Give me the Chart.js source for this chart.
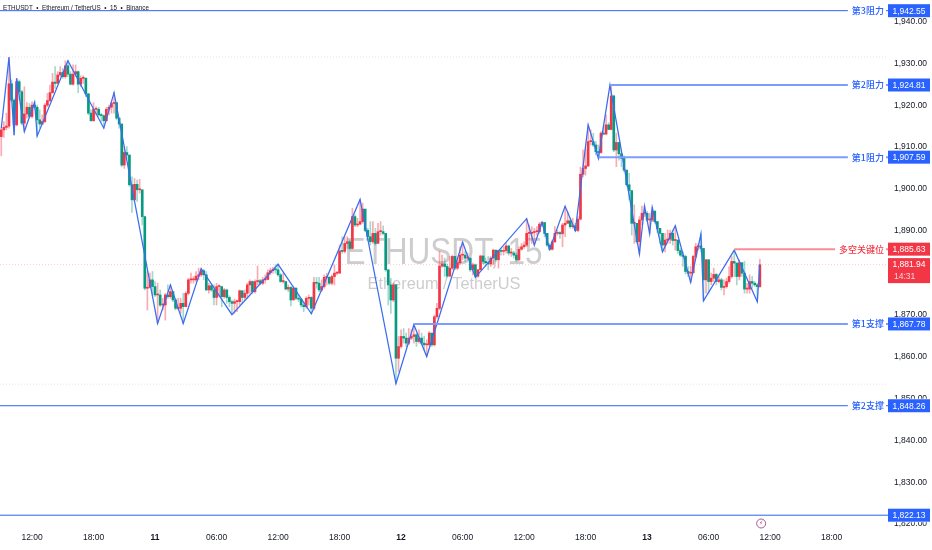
<!DOCTYPE html>
<html><head><meta charset="utf-8">
<style>html,body{margin:0;padding:0;background:#fff}#w{width:932px;height:550px;position:relative}</style>
<script src="https://cdn.jsdelivr.net/npm/chart.js@4/dist/chart.umd.js"></script>
</head><body><div id="w"><canvas id="c" width="932" height="550"></canvas></div>
<script>
const opens=[1912.5,1914.1,1914.7,1915.0,1925.1,1921.2,1915.3,1925.6,1923.2,1915.7,1917.9,1919.5,1917.3,1920.0,1919.5,1916.5,1915.5,1916.1,1920.0,1921.1,
1923.0,1925.5,1925.2,1927.2,1927.8,1926.8,1929.4,1927.4,1925.0,1927.4,1928.0,1925.0,1926.4,1926.4,1922.7,1918.1,1916.3,1919.0,1919.0,1917.7,
1917.5,1916.3,1919.0,1919.5,1920.4,1920.6,1916.9,1915.5,1905.7,1908.7,1908.1,1901.0,1897.4,1901.1,1899.8,1899.8,1893.4,1876.3,1876.5,1878.3,
1876.7,1874.7,1874.7,1872.3,1872.3,1874.7,1874.3,1875.5,1873.5,1871.5,1871.5,1872.7,1871.9,1875.1,1878.3,1878.3,1878.3,1879.2,1879.5,1880.5,
1879.5,1875.9,1876.9,1875.9,1874.1,1876.7,1876.7,1874.3,1875.9,1874.1,1873.1,1872.7,1873.1,1873.1,1875.7,1874.1,1875.1,1877.1,1877.9,1875.5,
1877.9,1878.1,1877.5,1878.3,1878.4,1880.0,1880.5,1880.8,1880.7,1879.5,1877.9,1877.9,1876.1,1876.5,1873.5,1876.3,1873.9,1873.7,1872.3,1871.9,
1873.9,1874.1,1871.5,1877.7,1877.5,1875.9,1876.7,1878.9,1878.9,1877.5,1879.1,1879.9,1879.9,1885.2,1885.1,1887.0,1887.4,1885.8,1893.4,1891.4,
1891.6,1892.2,1895.2,1890.1,1888.6,1887.4,1889.4,1887.0,1889.8,1889.8,1889.4,1880.7,1877.1,1873.5,1877.1,1859.6,1862.4,1864.8,1864.4,1863.2,
1864.4,1864.8,1865.2,1863.6,1864.4,1863.2,1862.8,1862.8,1865.6,1862.8,1869.5,1871.5,1881.6,1882.1,1881.5,1879.2,1881.1,1883.9,1881.1,1882.4,
1884.2,1884.2,1883.5,1883.5,1880.7,1881.9,1879.2,1880.7,1884.0,1882.7,1882.4,1882.1,1883.5,1885.4,1883.1,1885.3,1885.1,1885.3,1886.4,1884.7,
1884.7,1884.2,1883.1,1885.6,1886.2,1886.6,1889.4,1889.4,1889.6,1889.8,1889.8,1891.6,1892.0,1889.4,1886.6,1885.6,1887.4,1889.4,1889.6,1889.3,
1891.4,1891.8,1892.4,1891.0,1891.2,1890.1,1892.8,1903.5,1904.9,1905.5,1911.3,1911.3,1910.5,1908.9,1908.7,1913.3,1913.1,1915.3,1914.2,1922.2,
1909.3,1911.1,1908.4,1907.3,1904.5,1901.0,1899.6,1891.8,1891.8,1887.4,1892.6,1894.2,1894.2,1892.6,1892.6,1894.7,1892.2,1890.6,1889.4,1886.6,
1887.8,1888.0,1889.4,1887.7,1887.8,1885.3,1884.2,1883.9,1880.3,1879.9,1880.0,1883.9,1886.2,1886.4,1885.8,1878.3,1883.1,1877.9,1878.7,1879.6,
1877.9,1878.3,1876.5,1876.7,1877.9,1879.1,1882.7,1882.3,1879.1,1882.4,1879.9,1876.1,1876.1,1877.9,1877.5,1877.1,1876.7];
const closes=[1914.1,1914.7,1915.0,1925.1,1921.2,1915.3,1925.6,1923.2,1915.7,1917.9,1919.5,1917.3,1920.0,1919.5,1916.5,1915.5,1916.1,1920.0,1921.1,1923.0,
1925.5,1925.2,1927.2,1927.8,1926.8,1929.4,1927.4,1925.0,1927.4,1928.0,1925.0,1926.4,1926.4,1922.7,1918.1,1916.3,1919.0,1919.0,1917.7,1917.5,
1916.3,1919.0,1919.5,1920.4,1920.6,1916.9,1915.5,1905.7,1908.7,1908.1,1901.0,1897.4,1901.1,1899.8,1899.8,1893.4,1876.3,1876.5,1878.3,1876.7,
1874.7,1874.7,1872.3,1872.3,1874.7,1874.3,1875.5,1873.5,1871.5,1871.5,1872.7,1871.9,1875.1,1878.3,1878.3,1878.3,1879.2,1879.5,1880.5,1879.5,
1875.9,1876.9,1875.9,1874.1,1876.7,1876.7,1874.3,1875.9,1874.1,1873.1,1872.7,1873.1,1873.1,1875.7,1874.1,1875.1,1877.1,1877.9,1875.5,1877.9,
1878.1,1877.5,1878.3,1878.4,1880.0,1880.5,1880.8,1880.7,1879.5,1877.9,1877.9,1876.1,1876.5,1873.5,1876.3,1873.9,1873.7,1872.3,1871.9,1873.9,
1874.1,1871.5,1877.7,1877.5,1875.9,1876.7,1878.9,1878.9,1877.5,1879.1,1879.9,1879.9,1885.2,1885.1,1887.0,1887.4,1885.8,1893.4,1891.4,1891.6,
1892.2,1895.2,1890.1,1888.6,1887.4,1889.4,1887.0,1889.8,1889.8,1889.4,1880.7,1877.1,1873.5,1877.1,1859.6,1862.4,1864.8,1864.4,1863.2,1864.4,
1864.8,1865.2,1863.6,1864.4,1863.2,1862.8,1862.8,1865.6,1862.8,1869.5,1871.5,1881.6,1882.1,1881.5,1879.2,1881.1,1883.9,1881.1,1882.4,1884.2,
1884.2,1883.5,1883.5,1880.7,1881.9,1879.2,1880.7,1884.0,1882.7,1882.4,1882.1,1883.5,1885.4,1883.1,1885.3,1885.1,1885.3,1886.4,1884.7,1884.7,
1884.2,1883.1,1885.6,1886.2,1886.6,1889.4,1889.4,1889.6,1889.8,1889.8,1891.6,1892.0,1889.4,1886.6,1885.6,1887.4,1889.4,1889.6,1889.3,1891.4,
1891.8,1892.4,1891.0,1891.2,1890.1,1892.8,1903.5,1904.9,1905.5,1911.3,1911.3,1910.5,1908.9,1908.7,1913.3,1913.1,1915.3,1914.2,1922.2,1909.3,
1911.1,1908.4,1907.3,1904.5,1901.0,1899.6,1891.8,1891.8,1887.4,1892.6,1894.2,1894.2,1892.6,1892.6,1894.7,1892.2,1890.6,1889.4,1886.6,1887.8,
1888.0,1889.4,1887.7,1887.8,1885.3,1884.2,1883.9,1880.3,1879.9,1880.0,1883.9,1886.2,1886.4,1885.8,1878.3,1883.1,1877.9,1878.7,1879.6,1877.9,
1878.3,1876.5,1876.7,1877.9,1879.1,1882.7,1882.3,1879.1,1882.4,1879.9,1876.1,1876.1,1877.9,1877.5,1877.1,1876.7,1881.9];
const highs=[1914.5,1916.1,1918.1,1931.4,1926.0,1921.6,1926.4,1926.0,1923.6,1924.4,1920.6,1920.4,1920.8,1920.8,1920.0,1918.9,1917.7,1920.4,1922.8,1924.8,
1927.6,1929.2,1928.0,1929.2,1928.8,1930.6,1930.6,1928.0,1929.6,1929.6,1928.2,1927.0,1927.0,1926.6,1922.8,1918.9,1920.6,1919.6,1919.5,1918.1,
1917.7,1919.5,1920.0,1920.8,1923.0,1920.6,1916.9,1915.5,1910.1,1910.1,1908.1,1902.9,1902.5,1902.1,1902.3,1899.8,1893.4,1880.3,1879.9,1880.3,
1877.9,1877.5,1875.9,1873.9,1875.1,1877.1,1877.1,1875.5,1873.9,1873.9,1873.9,1875.1,1875.5,1878.7,1879.9,1879.1,1880.3,1881.1,1881.1,1880.8,
1880.3,1877.5,1877.1,1877.1,1877.5,1877.1,1876.7,1876.3,1876.1,1874.5,1873.5,1873.7,1873.5,1875.9,1875.7,1875.9,1877.5,1878.3,1878.1,1878.3,
1881.6,1878.4,1878.9,1879.5,1880.7,1881.1,1881.3,1881.9,1882.1,1879.9,1879.9,1877.9,1877.1,1876.7,1876.7,1876.5,1874.7,1873.9,1873.1,1874.3,
1874.7,1874.3,1878.9,1878.9,1878.9,1878.3,1879.5,1879.9,1879.1,1879.5,1881.9,1880.3,1886.6,1888.6,1888.6,1888.6,1887.8,1895.4,1893.8,1893.0,
1897.5,1896.6,1893.0,1890.6,1892.2,1892.2,1890.6,1891.8,1892.2,1891.2,1889.4,1880.7,1878.7,1877.5,1877.1,1864.8,1866.4,1866.7,1865.6,1866.7,
1866.4,1867.6,1865.6,1866.4,1865.6,1864.8,1864.0,1866.0,1865.6,1869.9,1872.7,1885.1,1884.2,1883.5,1882.1,1883.9,1884.2,1883.9,1883.1,1886.2,
1887.3,1885.1,1884.7,1883.5,1882.3,1882.1,1880.8,1884.2,1884.0,1883.5,1883.9,1883.9,1885.6,1885.4,1885.4,1885.8,1886.2,1887.0,1886.6,1885.8,
1885.1,1884.7,1886.2,1887.0,1887.4,1893.0,1891.4,1891.0,1890.6,1891.0,1892.0,1892.2,1891.8,1889.4,1887.0,1887.8,1891.0,1890.2,1889.8,1891.8,
1895.8,1894.6,1893.0,1893.0,1891.8,1893.4,1905.2,1909.3,1909.5,1915.3,1914.1,1913.3,1911.3,1910.5,1913.7,1914.9,1917.7,1915.8,1924.8,1922.4,
1913.3,1911.1,1908.1,1907.9,1904.5,1903.7,1899.6,1896.2,1891.8,1893.4,1895.9,1895.9,1894.6,1894.2,1895.6,1894.8,1892.2,1890.6,1889.4,1889.4,
1890.2,1890.2,1890.2,1891.2,1887.8,1885.8,1885.0,1884.2,1881.5,1881.5,1884.2,1887.0,1887.0,1889.3,1885.8,1883.2,1883.1,1879.9,1881.1,1879.9,
1879.1,1878.7,1878.3,1878.7,1881.5,1883.9,1885.4,1882.4,1883.1,1882.4,1882.7,1877.5,1879.5,1879.1,1877.9,1877.5,1883.2];
const lows=[1907.9,1912.3,1914.1,1914.5,1920.8,1912.8,1915.0,1921.2,1915.3,1913.7,1916.9,1916.9,1916.9,1918.9,1912.6,1914.5,1915.3,1915.8,1919.6,1920.8,
1922.8,1924.0,1925.2,1926.8,1926.4,1926.4,1926.8,1924.8,1924.8,1926.8,1923.0,1924.4,1925.2,1922.0,1917.7,1916.1,1916.1,1917.7,1917.3,1916.1,
1914.5,1916.1,1917.7,1918.1,1918.1,1916.5,1914.5,1905.3,1904.9,1907.3,1900.6,1894.4,1897.4,1897.0,1899.0,1891.4,1875.9,1871.1,1876.3,1874.7,
1874.3,1867.9,1871.9,1871.1,1868.7,1873.9,1873.9,1873.1,1871.1,1871.1,1870.3,1867.9,1871.9,1874.7,1877.5,1877.5,1877.9,1878.3,1879.1,1878.3,
1875.7,1875.1,1875.5,1872.3,1872.3,1874.3,1871.9,1873.9,1872.7,1871.9,1870.0,1870.3,1870.7,1872.3,1872.7,1873.5,1873.9,1875.1,1875.1,1875.1,
1877.1,1877.1,1877.1,1877.5,1878.3,1879.5,1879.9,1879.9,1879.1,1877.7,1877.5,1875.9,1875.5,1872.1,1873.7,1873.5,1873.1,1871.8,1870.7,1871.5,
1872.3,1870.2,1871.1,1876.3,1875.5,1875.5,1876.3,1877.1,1877.1,1877.1,1877.1,1879.5,1879.9,1884.7,1884.7,1885.8,1885.4,1885.6,1891.0,1891.0,
1891.4,1891.8,1889.8,1887.8,1886.6,1887.0,1886.6,1889.4,1889.0,1889.0,1880.3,1872.3,1870.3,1873.1,1853.5,1856.4,1862.0,1863.2,1862.4,1862.8,
1864.0,1863.2,1862.4,1863.2,1862.8,1861.6,1860.0,1862.5,1862.4,1862.5,1869.1,1871.1,1881.3,1879.1,1878.9,1879.1,1880.7,1880.7,1880.7,1881.9,
1883.1,1882.7,1883.1,1880.3,1879.5,1878.9,1878.9,1880.7,1882.1,1881.5,1880.7,1881.5,1881.9,1882.7,1881.1,1884.2,1884.2,1884.7,1884.2,1883.9,
1883.5,1882.7,1882.9,1885.4,1885.8,1886.2,1887.8,1887.0,1886.6,1889.0,1889.4,1891.0,1888.6,1886.2,1885.3,1885.4,1887.2,1889.0,1888.2,1886.2,
1888.6,1891.8,1890.6,1890.6,1889.8,1889.8,1892.6,1902.9,1903.3,1905.3,1910.5,1910.1,1908.1,1907.3,1908.5,1912.9,1912.9,1914.1,1914.1,1908.9,
1905.3,1906.9,1905.3,1904.1,1900.6,1897.4,1889.0,1887.0,1887.0,1884.5,1891.4,1893.4,1892.2,1889.3,1892.2,1891.8,1889.6,1887.0,1885.0,1885.0,
1887.0,1887.0,1886.6,1885.4,1884.6,1883.9,1881.5,1879.7,1879.1,1877.7,1879.9,1883.5,1885.4,1885.0,1873.3,1875.1,1875.1,1877.1,1877.9,1877.1,
1877.5,1875.9,1874.7,1876.3,1877.5,1878.7,1879.1,1877.1,1878.3,1879.1,1875.1,1875.1,1875.1,1876.3,1876.7,1873.1,1876.5];

const zigIndex=[0,3,5,6,9,13,14,26,40,44,61,66,71,78,90,108,121,140,154,161,166,180,185,205,208,211,214,220,224,229,233,237.5,249,251,253,254,258,263,269,273,274,286,295,296];
const zigPrice=[1914.5,1931.4,1912.9,1926.4,1913.7,1920.7,1912.6,1930.6,1914.5,1923,1867.9,1877.1,1867.9,1881,1870,1882,1870.2,1897.5,1853.5,1867.6,1860,1887.3,1878.9,1892.9,1886.6,1892,1885.6,1895.9,1890.1,1915.3,1907.3,1924.8,1884.5,1895.9,1889.3,1895.6,1885,1891.2,1877.7,1889.3,1873.3,1885.4,1873.1,1881.9];

const levelPrice=[1942.55,1924.81,1907.59,1885.63,1867.78,1848.26,1822.13];
const levelStart=[-0.5,237.5,233,286,161,-0.5,-0.5];
const levelName=["第3阻力","第2阻力","第1阻力","多空关键位","第1支撑","第2支撑",""];
const levelWidth=[1,2,2,2,2,1,1];

const lastPrice=1881.94, countdown="14:31", highPrice=1931.5, lowPrice=1853.4;
const timeIndex=[12,36,60,84,108,132,156,180,204,228,252,276,300,324];
const timeLabel=["12:00","18:00","11","06:00","12:00","18:00","12","06:00","12:00","18:00","13","06:00","12:00","18:00"];
const priceTicks=[1820,1830,1840,1850,1860,1870,1880,1890,1900,1910,1920,1930,1940];

const BLUE="#2962ff",RED="#f23645",GREEN="#089981",XMAX=346;
const fmt=v=>v.toLocaleString("en-US",{minimumFractionDigits:2,maximumFractionDigits:2});
const up=i=>closes[i]>=opens[i];

const datasets=[];
datasets.push({type:"bar",label:"wick",order:5,grouped:false,barThickness:1,
  data:highs.map((h,i)=>({x:i,y:[lows[i],h]})),
  backgroundColor:highs.map((h,i)=>up(i)?"rgba(242,54,69,.42)":"rgba(8,153,129,.38)")});
datasets.push({type:"bar",label:"body",order:4,grouped:false,barThickness:2,minBarLength:1,
  data:opens.map((o,i)=>({x:i,y:[Math.min(o,closes[i]),Math.max(o,closes[i])]})),
  backgroundColor:opens.map((o,i)=>up(i)?RED:GREEN)});
datasets.push({type:"line",label:"zigzag",order:3,borderColor:"#3a6cf0",borderWidth:1.25,pointRadius:0,tension:0,
  data:zigIndex.map((x,i)=>({x,y:zigPrice[i]}))});
levelPrice.forEach((p,i)=>{
  const red=levelName[i]==="多空关键位";
  datasets.push({type:"line",label:"level"+i,order:2,pointRadius:0,
    borderColor:red?"#f98d96":(levelWidth[i]>1?"#7d9cff":"#2f63ef"),borderWidth:levelWidth[i],
    data:[{x:levelStart[i],y:p},{x:XMAX,y:p}]});
});
[[highPrice,"#e2e4ea"],[lowPrice,"#e2e4ea"],[lastPrice,"#fbc9ce"]].forEach(([p,col],i)=>{
  datasets.push({type:"line",label:"mark"+i,order:6,pointRadius:0,borderColor:col,borderWidth:1,borderDash:[1,2],
    data:[{x:-0.5,y:p},{x:XMAX,y:p}]});
});

const deco={id:"deco",
  beforeDatasetsDraw(ch){
    const c=ch.ctx;c.save();
    c.fillStyle="#cdcdcf";c.textAlign="center";c.textBaseline="middle";
    c.font='37px "Liberation Sans"';c.fillText("ETHUSDT, 15",443.5,254,198);
    c.font='16.5px "Liberation Sans"';c.fillText("Ethereum / TetherUS",444,284,153);
    c.restore();
  },
  afterDraw(ch){
    const c=ch.ctx,y=ch.scales.y,x=ch.scales.x;c.save();
    c.textBaseline="middle";
    levelPrice.forEach((p,i)=>{
      const py=y.getPixelForValue(p),red=levelName[i]==="多空关键位",col=red?RED:BLUE;
      if(levelName[i]){
        c.font='500 9px "Noto Sans CJK SC"';
        const w=c.measureText(levelName[i]).width;
        c.fillStyle="#fff";c.fillRect(884-w-4,py-6,w+6,12);
        c.fillStyle=col;c.textAlign="right";c.fillText(levelName[i],884,py);
      }
      c.fillStyle="#fff";c.fillRect(888,py-7,44,14);
      c.fillStyle=col;c.fillRect(888,py-6.5,42,13);
      c.fillStyle="#fff";c.font='8.5px "Liberation Sans"';c.textAlign="center";c.fillText(fmt(p),909,py+.5);
    });
    const ly=y.getPixelForValue(lastPrice);
    c.fillStyle=RED;c.fillRect(888,ly-6.5,42,25);
    c.fillStyle="#fff";c.font='8.5px "Liberation Sans"';c.textAlign="center";c.fillText(fmt(lastPrice),909,ly+.5);
    c.fillStyle="#fbd5d8";c.textAlign="left";c.fillText(countdown,894,ly+12);
    c.fillStyle="#131722";c.textAlign="left";c.font='6.3px "Liberation Sans"';
    c.fillText("ETHUSDT  •  Ethereum / TetherUS  •  15  •  Binance",3,8);
    const ix=x.getPixelForValue(296.5);
    c.strokeStyle="#a8558f";c.lineWidth=1;c.beginPath();c.arc(ix,523.5,4.5,0,Math.PI*2);c.stroke();
    c.fillStyle="#c04a7c";c.font='6px "DejaVu Sans"';c.textAlign="center";c.fillText("⚡",ix,523.5);
    c.restore();
  }
};

new Chart(document.getElementById("c"),{
  type:"bar",
  data:{datasets},
  plugins:[deco],
  options:{
    responsive:false,animation:false,parsing:{xAxisKey:"x",yAxisKey:"y"},
    layout:{padding:{top:-11.5,left:0,right:0,bottom:0}},
    plugins:{legend:{display:false},tooltip:{enabled:false}},
    scales:{
      x:{type:"linear",position:"bottom",min:-0.5,max:XMAX,offset:false,
        grid:{display:false,drawTicks:false},border:{display:false},
        afterBuildTicks:s=>{s.ticks=timeIndex.map(v=>({value:v}));},
        afterFit:s=>{s.height=20;},
        ticks:{autoSkip:false,maxRotation:0,padding:3,color:"#131722",
          callback:v=>timeLabel[timeIndex.indexOf(v)],
          font:ctx=>({family:'"Liberation Sans"',size:8.5,weight:/^\d\d$/.test(timeLabel[ctx.index]||"")?"bold":"normal"})}
      },
      y:{type:"linear",position:"right",min:1818.6,max:1945.1,
        grid:{display:false,drawTicks:false},border:{display:false},
        afterBuildTicks:s=>{s.ticks=priceTicks.map(v=>({value:v}));},
        afterFit:s=>{s.width=44;s.paddingTop=0;s.paddingBottom=0;},
        ticks:{autoSkip:false,padding:6,color:"#131722",font:{family:'"Liberation Sans"',size:8.5},callback:v=>fmt(v)}
      }
    }
  }
});
</script></body></html>
